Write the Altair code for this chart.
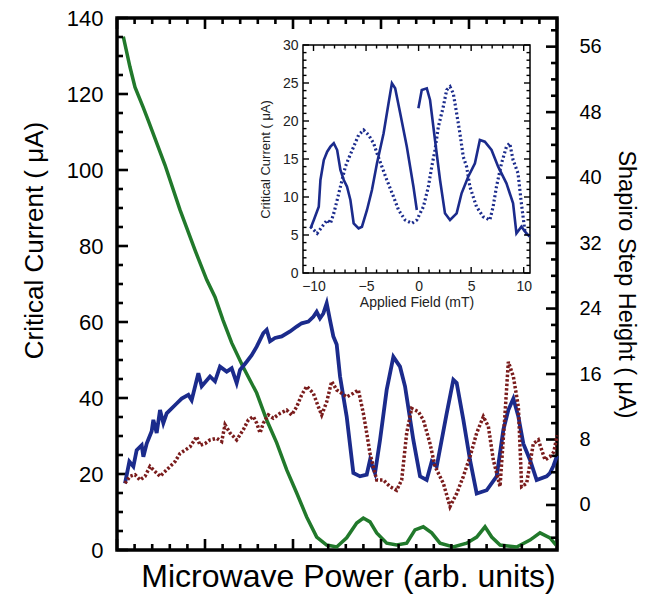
import altair as alt
import pandas as pd

FONT = "Liberation Sans"
W, H = 440, 532
# inset plot rectangle inside the main plot area (pixels)
IX0, IX1, IY0, IY1 = 186, 413, 255, 27

# ---------------- main chart data (x: microwave power, arb. units 0-100) ----------------
green_x = [1.43, 2.95, 4.09, 5.91, 7.05, 10.91, 14.32, 17.73, 20.39, 22.27, 24.09, 26.07, 28.64, 31.75,
           34.02, 36.3, 38.57, 40.84, 43.11, 45.39, 47.66, 49.93, 52.2, 54.48, 55.98, 57.5, 59.02, 61.3,
           63.57, 65.84, 67.73, 69.61, 71.52, 73.41, 76.43, 79.48, 81.75, 83.64, 85.16, 87.05, 90.84,
           93.86, 96.14, 98.41, 99.8]
green_y = [135.1, 127.1, 121.8, 116.6, 113.2, 101.3, 89.5, 78.9, 71.1, 66.6, 60.5, 54.5, 48.2, 41.3,
           34.2, 28.2, 21.1, 15.0, 8.7, 3.4, 1.3, 0.8, 3.2, 7.1, 8.4, 7.4, 4.5, 1.8,
           1.3, 1.8, 5.3, 6.1, 4.5, 1.8, 0.8, 1.8, 3.4, 6.1, 3.4, 1.3, 0.8,
           2.6, 4.5, 3.2, 1.3]

blue_x = [1.82, 2.81, 3.72, 4.47, 5.61, 5.99, 6.75, 7.88, 8.26, 9.02, 9.78, 10.53, 11.29, 13.56, 14.7,
          16.22, 16.97, 18.49, 19.25, 21.14, 22.28, 23.41, 24.93, 26.06, 27.2, 27.96, 29.47, 30.61,
          31.75, 33.26, 34.02, 34.78, 35.91, 37.43, 39.32, 40.84, 41.97, 43.49, 44.62, 45.38, 46.14,
          46.9, 47.66, 48.41, 49.17, 49.93, 50.69, 52.2, 53.72, 55.23, 56.75, 57.5, 58.64, 59.78,
          61.29, 62.81, 64.32, 65.46, 67.35, 68.87, 70.38, 71.52, 72.66, 74.93, 76.44, 77.2, 78.72,
          80.23, 81.75, 84.02, 86.29, 87.81, 88.94, 90.08, 91.22, 92.35, 93.87, 95.38, 97.64, 98.4,
          99.2, 100]
blue_y = [2.65, 5.3, 4.7, 6.7, 7.3, 5.9, 7.5, 9.0, 10.4, 8.8, 11.6, 10.0, 11.2, 12.4, 13.0,
          13.45, 12.8, 16.1, 14.5, 15.7, 15.1, 16.9, 16.3, 16.7, 14.9, 16.5, 17.5, 18.3,
          19.35, 21.0, 21.4, 20.0, 20.4, 20.6, 21.2, 21.8, 22.2, 22.4, 23.0, 23.6, 22.8,
          23.4, 24.65, 22.6, 20.6, 19.6, 15.7, 10.8, 3.9, 3.5, 3.7, 5.5, 3.9, 7.95,
          14.06, 18.1, 16.9, 14.5, 7.95, 3.5, 3.05, 5.3, 4.7, 11.2, 15.3, 14.9, 10.4,
          5.5, 1.4, 1.8, 3.5, 9.2, 11.6, 13.0, 10.8, 7.5, 5.5, 3.05, 3.5, 3.9,
          4.8, 6.0]

red_x = [1.82, 2.96, 4.09, 5.23, 6.37, 7.5, 8.64, 9.78, 10.91, 12.05, 13.19, 14.32, 15.46, 16.59,
         18.11, 18.87, 20.0, 21.14, 22.66, 23.79, 24.55, 25.69, 27.2, 28.72, 29.85, 30.99, 31.75,
         32.5, 33.26, 34.4, 35.53, 37.05, 38.56, 39.7, 40.84, 41.97, 43.11, 44.62, 45.76, 46.52,
         47.66, 48.79, 49.93, 51.06, 52.2, 53.72, 54.85, 55.99, 56.75, 57.5, 59.02, 60.53, 62.05,
         63.56, 64.7, 65.84, 66.97, 68.49, 69.62, 71.14, 72.28, 74.17, 75.69, 77.2, 78.72, 80.23,
         81.75, 83.26, 84.4, 85.53, 87.05, 88.19, 88.94, 90.08, 91.22, 91.97, 93.11, 94.62, 95.76,
         97.28, 98.4, 99.3, 100]
red_y = [2.65, 3.5, 3.7, 3.05, 3.5, 4.7, 4.1, 3.5, 4.1, 4.7, 5.3, 6.3, 6.7, 7.1,
         8.35, 7.3, 7.5, 7.95, 8.15, 7.75, 9.8, 8.8, 7.95, 9.2, 10.4, 10.8, 10.0,
         8.8, 10.0, 11.0, 10.6, 11.2, 11.6, 11.0, 12.0, 13.45, 14.5, 13.65, 12.0, 11.0,
         12.6, 15.1, 14.06, 13.65, 13.2, 13.65, 14.06, 11.2, 8.8, 6.3, 3.05, 3.05, 2.25,
         1.8, 3.05, 8.8, 11.8, 11.4, 10.4, 7.5, 4.7, 2.65, -0.2, 1.4, 3.5, 5.9,
         8.8, 10.8, 9.6, 5.5, 2.25, 11.2, 17.5, 15.7, 12.0, 2.25, 2.65, 7.5, 7.95,
         5.5, 5.9, 6.5, 8.5]

# ---------------- inset data (applied field, mT) ----------------
in_solid1_f = [-10.28, -9.97, -9.5, -9.34, -9.02, -8.7, -8.39, -8.07, -7.75, -7.44, -7.12, -6.81, -6.49,
               -6.18, -5.71, -5.39, -4.91, -4.44, -3.96, -3.33, -2.86, -2.54, -2.23, -1.75, -1.12,
               -0.49, -0.17]
in_solid1_i = [5.88, 6.97, 8.72, 12.24, 14.87, 15.96, 16.62, 17.07, 16.18, 13.55, 12.24, 11.36, 9.6,
               6.54, 5.88, 6.09, 8.29, 10.92, 14.43, 18.38, 22.33, 24.96, 24.3, 21.01, 16.62,
               11.36, 8.29]
in_solid2_f = [-0.02, 0.3, 0.78, 1.09, 1.56, 2.04, 2.51, 2.99, 3.62, 4.09, 4.72, 5.36, 5.83, 6.3, 6.94,
               7.57, 8.36, 8.99, 9.31, 9.78, 10.26, 10.57]
in_solid2_i = [21.67, 24.08, 24.3, 22.76, 17.5, 12.24, 7.85, 6.97, 7.85, 10.49, 12.67, 14.43, 17.5,
               17.28, 16.18, 13.99, 11.8, 9.17, 5.22, 6.09, 5.22, 4.78]
in_dot_f = [-10.28, -9.65, -9.18, -8.7, -8.39, -8.07, -7.75, -7.44, -6.97, -6.65, -6.18, -5.71, -5.23,
            -4.76, -4.28, -3.96, -3.49, -3.02, -2.39, -1.91, -1.28, -0.64, -0.17, 0.14, 0.46, 0.93,
            1.25, 1.56, 1.88, 2.35, 2.67, 2.99, 3.3, 3.62, 3.93, 4.25, 4.57, 4.88, 5.51, 6.14, 6.78,
            7.09, 7.41, 7.89, 8.36, 8.67, 8.99, 9.46, 9.78, 10.1, 10.41]
in_dot_i = [6.09, 5.22, 6.09, 6.97, 6.54, 7.85, 9.6, 11.36, 13.99, 15.09, 16.62, 18.16, 18.82,
            18.16, 17.07, 15.75, 13.99, 12.24, 10.04, 8.29, 6.97, 6.54, 6.97, 7.85, 8.72, 11.36,
            13.99, 16.18, 19.25, 21.88, 24.08, 24.51, 23.64, 21.01, 18.38, 15.3, 13.99, 11.36, 8.72,
            7.41, 6.97, 8.72, 11.36, 14.43, 16.62, 17.07, 14.87, 13.12, 9.17, 5.66, 4.78]

# ---------------- tick values ----------------
left_major = list(range(0, 141, 20))
left_ticks = list(range(0, 141, 5))
right_major = list(range(0, 57, 8))
right_ticks = list(range(-4, 59, 2))
x_ticks = list(range(0, 101, 4))
in_x_major = [-10, -5, 0, 5, 10]
in_x_ticks = list(range(-10, 11))
in_y_major = list(range(0, 31, 5))
in_y_ticks = list(range(0, 31))

# ---------------- scales ----------------
X_DOM = [0, 100]
YL_DOM = [0, 140]
YR_DOM = [-5.5, 59.5]
XI_DOM = [-11, 10.6]
YI_DOM = [0, 30]
xMain = alt.Scale(domain=X_DOM, nice=False, zero=False)
yLeft = alt.Scale(domain=YL_DOM, nice=False, zero=False)
yRight = alt.Scale(domain=YR_DOM, nice=False, zero=False)
xIn = alt.Scale(domain=XI_DOM, range=[IX0, IX1], nice=False, zero=False)
yIn = alt.Scale(domain=YI_DOM, range=[IY0, IY1], nice=False, zero=False)

BLUE = "#1b2b8c"
RED = "#7a1c1c"
GREEN = "#21792b"

# tick lengths in pixels, converted to data units of the scale they run along
MJ, MN, TW = 11, 6, 2.6
IMJ, IMN, ITW = 6, 3.5, 1.4
ux_main = (X_DOM[1] - X_DOM[0]) / W
uy_left = (YL_DOM[1] - YL_DOM[0]) / H
ux_in = (XI_DOM[1] - XI_DOM[0]) / (IX1 - IX0)
uy_in = (YI_DOM[1] - YI_DOM[0]) / (IY0 - IY1)


def edge_ticks(vals, major_every, edge, side, unit, big, small, xcol, ycol, tag):
    """Short inward segments: side='v' -> ticks on a vertical edge at x=edge (run along x);
    side='h' -> ticks on a horizontal edge at y=edge (run along y). unit is signed."""
    rows = []
    for k, v in enumerate(vals):
        length = (big if v % major_every == 0 else small) * unit
        g = f"{tag}{k}"
        if side == "v":
            rows.append({xcol: edge, ycol: v, "g": g, "o": 0, "kind": "tick"})
            rows.append({xcol: edge + length, ycol: v, "g": g, "o": 1, "kind": "tick"})
        else:
            rows.append({xcol: v, ycol: edge, "g": g, "o": 0, "kind": "tick"})
            rows.append({xcol: v, ycol: edge + length, "g": g, "o": 1, "kind": "tick"})
    return pd.DataFrame(rows)


def curve(xs, ys, xcol, ycol, g):
    return pd.DataFrame({xcol: xs, ycol: ys, "g": g, "o": range(len(xs)), "kind": "curve"})


def color_of(c):
    return alt.Color("kind:N", scale=alt.Scale(domain=["curve", "tick"], range=[c, "black"]), legend=None)


def width_of(w, tw):
    return alt.StrokeWidth("kind:N", scale=alt.Scale(domain=["curve", "tick"], range=[w, tw]), legend=None)


green_df = pd.concat([
    curve(green_x, green_y, "p", "c", "curve"),
    edge_ticks(left_ticks, 20, X_DOM[0], "v", ux_main, MJ, MN, "p", "c", "L"),
    edge_ticks(x_ticks, 20, YL_DOM[0], "h", uy_left, MJ, MN, "p", "c", "B"),
    edge_ticks(x_ticks, 20, YL_DOM[1], "h", -uy_left, MJ, MN, "p", "c", "T"),
], ignore_index=True)

blue_df = pd.concat([
    curve(blue_x, blue_y, "p", "s", "curve"),
    edge_ticks(right_ticks, 8, X_DOM[1], "v", -ux_main, MJ, MN, "p", "s", "R"),
], ignore_index=True)

red_df = pd.DataFrame({"p": red_x, "s": red_y})

solid_df = pd.concat([
    curve(in_solid1_f, in_solid1_i, "f", "i", "seg_a"),
    curve(in_solid2_f, in_solid2_i, "f", "i", "seg_b"),
    edge_ticks(in_y_ticks, 5, XI_DOM[0], "v", ux_in, IMJ, IMN, "f", "i", "iL"),
    edge_ticks(in_y_ticks, 5, XI_DOM[1], "v", -ux_in, IMJ, IMN, "f", "i", "iR"),
    edge_ticks(in_x_ticks, 5, YI_DOM[0], "h", uy_in, IMJ, IMN, "f", "i", "iB"),
    edge_ticks(in_x_ticks, 5, YI_DOM[1], "h", -uy_in, IMJ, IMN, "f", "i", "iT"),
], ignore_index=True)

dot_df = pd.DataFrame({"f": in_dot_f, "i": in_dot_i})
one = pd.DataFrame({"k": [0]})

green = alt.Chart(green_df).mark_line().encode(
    x=alt.X("p:Q", scale=xMain, axis=alt.Axis(
        labels=False, ticks=False, domain=False, grid=False,
        title="Microwave Power (arb. units)", titleFont=FONT, titleFontSize=32,
        titleFontWeight="normal", titleColor="black", titlePadding=11, titleX=231)),
    y=alt.Y("c:Q", scale=yLeft, axis=alt.Axis(
        orient="left", values=left_major, ticks=False, domain=False, grid=False,
        labelFont=FONT, labelFontSize=22, labelColor="black", labelPadding=14,
        title="Critical Current ( μA)", titleFont=FONT, titleFontSize=26,
        titleFontWeight="normal", titleColor="black", titlePadding=19, titleY=222)),
    color=color_of(GREEN),
    strokeWidth=width_of(3.5, TW),
    detail="g:N",
    order="o:Q",
)

blue = alt.Chart(blue_df).mark_line().encode(
    x=alt.X("p:Q", scale=xMain, axis=None),
    y=alt.Y("s:Q", scale=yRight, axis=alt.Axis(
        orient="right", values=right_major, ticks=False, domain=False, grid=False,
        labelFont=FONT, labelFontSize=20, labelColor="black", labelPadding=22,
        title="Shapiro Step Height ( μA)", titleFont=FONT, titleFontSize=23.5,
        titleFontWeight="normal", titleColor="black", titlePadding=12)),
    color=color_of(BLUE),
    strokeWidth=width_of(3.8, TW),
    detail="g:N",
    order="o:Q",
)

red = alt.Chart(red_df).mark_line(color=RED, strokeWidth=3.5, strokeDash=[2.5, 2]).encode(
    x=alt.X("p:Q", scale=xMain, axis=None),
    y=alt.Y("s:Q", scale=yRight, axis=None),
)

inset_bg = alt.Chart(one).mark_rect(fill="white", stroke="black", strokeWidth=1.5).encode(
    x=alt.XDatum(XI_DOM[0], type="quantitative", scale=xIn, axis=None),
    x2=alt.X2Datum(XI_DOM[1]),
    y=alt.YDatum(YI_DOM[0], type="quantitative", scale=yIn, axis=None),
    y2=alt.Y2Datum(YI_DOM[1]),
)

inset_dot = alt.Chart(dot_df).mark_line(color=BLUE, strokeWidth=3.2, strokeDash=[2, 2.5]).encode(
    x=alt.X("f:Q", scale=xIn, axis=None),
    y=alt.Y("i:Q", scale=yIn, axis=None),
)

inset_solid = alt.Chart(solid_df).mark_line().encode(
    x=alt.X("f:Q", scale=xIn, axis=alt.Axis(
        orient="bottom", offset=-(H - IY0), values=in_x_major, ticks=False, domain=False,
        grid=False, labelFont=FONT, labelFontSize=14, labelColor="#222", labelPadding=6,
        title="Applied Field (mT)", titleFont=FONT, titleFontSize=14, titleFontWeight="normal",
        titleColor="#222", titlePadding=2)),
    y=alt.Y("i:Q", scale=yIn, axis=alt.Axis(
        orient="left", offset=-IX0, values=in_y_major, ticks=False, domain=False, grid=False,
        labelFont=FONT, labelFontSize=14, labelColor="#222", labelPadding=5,
        title="Critical Current ( μA)", titleFont=FONT, titleFontSize=13,
        titleFontWeight="normal", titleColor="#222", titlePadding=10)),
    color=color_of(BLUE),
    strokeWidth=width_of(2.6, ITW),
    detail="g:N",
    order="o:Q",
)

chart = alt.layer(
    green, blue, red, inset_bg, inset_dot, inset_solid
).resolve_scale(
    x="independent", y="independent", color="independent", strokeWidth="independent"
).properties(
    width=W, height=H,
    autosize=alt.AutoSizeParams(type="none"),
    padding={"left": 117, "top": 18, "right": 96, "bottom": 57},
    background="white",
).configure_view(
    stroke="black", strokeWidth=3.5
)

chart.save("out.html", embed_options={"renderer": "svg", "actions": False})
